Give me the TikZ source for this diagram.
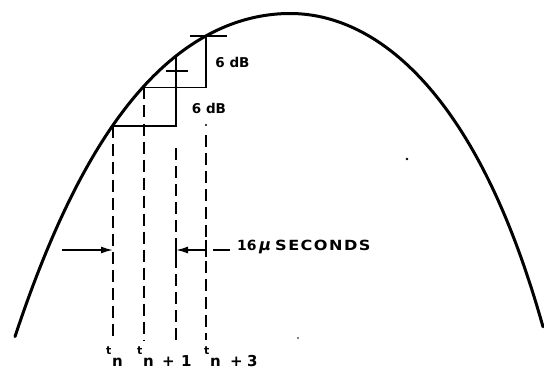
\documentclass[tikz,border=0pt]{standalone}
\usepackage{fontspec}
\setmainfont{DejaVu Sans}
\usetikzlibrary{arrows.meta}
\begin{document}
\begin{tikzpicture}[x=1pt,y=-1pt,
  curve/.style={line width=3pt, line cap=round, line join=round},
  stepline/.style={line width=1.9pt},
  dashline/.style={line width=1.7pt, dash pattern=on 12pt off 6pt},
  lbl/.style={font=\bfseries\fontsize{13.5}{13.5}\selectfont, inner sep=0pt},
  tlbl/.style={font=\bfseries\fontsize{11}{11}\selectfont, inner sep=0pt, anchor=base west},
  nlbl/.style={font=\bfseries\fontsize{15}{15}\selectfont, inner sep=0pt, anchor=base west},
  dimarrow/.style={line width=1.7pt, -{Latex[length=12pt,width=7pt]}},
]
\useasboundingbox (0,0) rectangle (544,369);

% main curve (asymmetric bell)
\draw[curve] plot[domain=15:290, samples=90]
    (\x,{13.5 + 30.62*((\x-290)/100)^2 + 1.6*((\x-290)/100)^4})
  -- plot[domain=290:543, samples=90]
    (\x,{13.5 + 35.11*((\x-290)/100)^2 + 1.588*((\x-290)/100)^4 + 0.014*((\x-290)/100)^8});

% sample points on the curve
\coordinate (A) at (113,126);
\coordinate (B) at (144,87.5);
\coordinate (C) at (176,56.5);
\coordinate (D) at (206,36);
\coordinate (A1) at (176,126);
\coordinate (B1) at (206,87.5);
\coordinate (Ct1) at (166,71);
\coordinate (Ct2) at (188,71);
\coordinate (Dt1) at (190,36);
\coordinate (Dt2) at (227,36);
\coordinate (Ab) at (113,340);
\coordinate (Bb) at (144,340);
\coordinate (Cs) at (176,148);
\coordinate (Cb) at (176,340);
\coordinate (Dd) at (206,125);
\coordinate (Ds) at (206,135);
\coordinate (Db) at (206,340);

% steps
\draw[stepline] (A) -- (A1) -- (C);
\draw[stepline] (B) -- (B1) -- (D);
\draw[stepline] (Ct1) -- (Ct2);
\draw[stepline] (Dt1) -- (Dt2);

% dashed time lines
\draw[dashline] (A) -- (Ab);
\draw[dashline] (B) -- (Bb);
\draw[dashline] (Cs) -- (Cb);
\fill (Dd) circle (1.2pt);
\draw[dashline] (Ds) -- (Db);

% labels 6 dB
\node[lbl] (db1) at (232.5,62.5) {6 dB};
\node[lbl] (db2) at (209,108) {6 dB};

% dimension arrows
\coordinate (L0) at (62,250);
\coordinate (L1) at (113,250);
\coordinate (R0) at (206,250);
\coordinate (R1) at (176,250);
\draw[dimarrow] (L0) -- (L1);
\draw[dimarrow] (R0) -- (R1);
\draw[stepline] (176,241) -- (176,259);
\draw[stepline] (206,240) -- (206,257);
\coordinate (Q0) at (213,250);
\coordinate (Q1) at (230,250);
\draw[line width=1.7pt] (Q0) -- (Q1);
\node[inner sep=0pt, anchor=base west,
  font=\bfseries\fontsize{14}{14}\selectfont] (s16) at (237,250) {16};
\node[inner sep=0pt, anchor=base west,
  font=\bfseries\fontsize{16}{16}\selectfont\addfontfeature{FakeSlant=0.2}] (smu) at (258,250) {μ};
\node[inner sep=0pt, anchor=base west, xscale=1.15,
  font=\bfseries\fontsize{14}{14}\selectfont\addfontfeature{LetterSpace=9}] (ssec) at (275,250) {SECONDS};

% time labels
\node[tlbl] (t1) at (106,354) {t};
\node[nlbl] (n1) at (112,366) {n};
\node[tlbl] (t2) at (137,354) {t};
\node[nlbl] (n2) at (143,366) {n};
\node[nlbl] (p2) at (162,366) {+};
\node[nlbl] (o2) at (181,366) {1};
\node[tlbl] (t3) at (204,354) {t};
\node[nlbl] (n3) at (210,366) {n};
\node[nlbl] (p3) at (230,366) {+};
\node[nlbl] (o3) at (247,366) {3};

% specks
\fill (407,159) circle (1.4pt);
\fill (298,338) circle (0.9pt);
\end{tikzpicture}
\end{document}
